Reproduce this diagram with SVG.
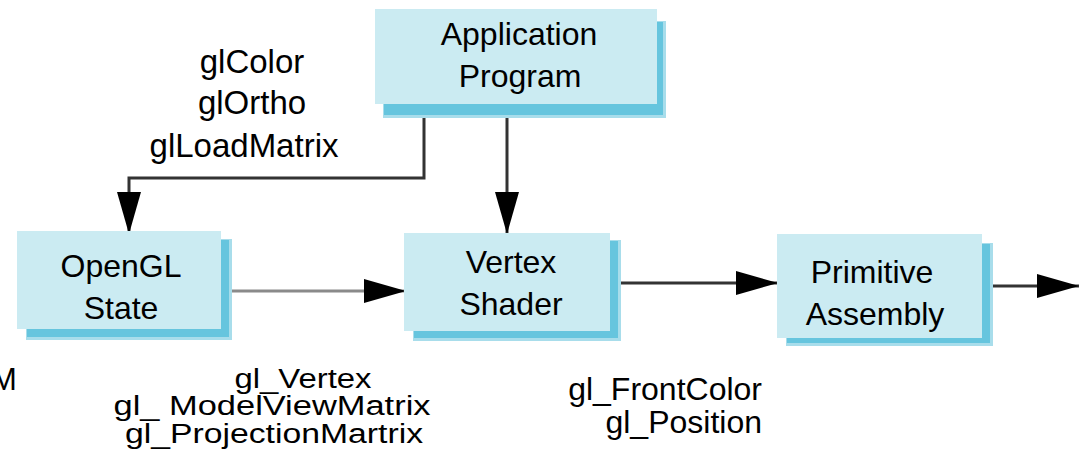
<svg xmlns="http://www.w3.org/2000/svg" width="1084" height="470" viewBox="0 0 1084 470">
<style>
.front{fill:#CBEBF2;}
.shadow{fill:#66C5DE;}
.edge{fill:#A8DDEB;}
text{font-family:"Liberation Sans",Arial,sans-serif;fill:#000;}
.box{font-size:32px;text-anchor:middle;}
.lbl{font-size:33px;text-anchor:middle;}
.blbl{font-size:27px;text-anchor:middle;}
.conn{fill:none;stroke:#333;stroke-width:3;}
.conn.gray{stroke:#8a8a8a;}
</style>
<defs>
<marker id="arr" markerUnits="userSpaceOnUse" markerWidth="42" markerHeight="24" viewBox="0 0 42 24" refX="42" refY="12" orient="auto">
<path d="M0,0 L42,12 L0,24 Z" fill="#000"/>
</marker>
</defs>
<rect width="1084" height="470" fill="#fff"/>
<g id="connectors">
<path class="conn" d="M424,117 V178 H129 V234" marker-end="url(#arr)"/>
<path class="conn" d="M507,117 V234" marker-end="url(#arr)"/>
<path class="conn gray" d="M225,291 H406" marker-end="url(#arr)"/>
<path class="conn" d="M610,283 H778" marker-end="url(#arr)"/>
<path class="conn" d="M982,286 H1079" marker-end="url(#arr)"/>
</g>
<g id="app">
<rect class="edge" x="383" y="21" width="283" height="97"/>
<rect class="shadow" x="384" y="22" width="279" height="93"/>
<rect class="front" x="375" y="9" width="282" height="95"/>
<text class="box" x="519" y="45">Application</text>
<text class="box" x="520" y="87">Program</text>
</g>
<g id="opengl">
<rect class="edge" x="26" y="239" width="206" height="101"/>
<rect class="shadow" x="27" y="240" width="202" height="97"/>
<rect class="front" x="17" y="231" width="204" height="98"/>
<text class="box" x="121" y="277">OpenGL</text>
<text class="box" x="121" y="319">State</text>
</g>
<g id="vertex">
<rect class="edge" x="413" y="240" width="208" height="101"/>
<rect class="shadow" x="414" y="241" width="204" height="97"/>
<rect class="front" x="404" y="233" width="206" height="98"/>
<text class="box" x="511" y="273">Vertex</text>
<text class="box" x="511" y="315">Shader</text>
</g>
<g id="primitive">
<rect class="edge" x="786" y="243" width="207" height="103"/>
<rect class="shadow" x="787" y="244" width="203" height="99"/>
<rect class="front" x="777" y="234" width="205" height="104"/>
<text class="box" x="872" y="283">Primitive</text>
<text class="box" x="875" y="325">Assembly</text>
</g>
<g id="labels">
<text class="lbl" x="252" y="73">glColor</text>
<text class="lbl" x="252" y="114">glOrtho</text>
<text class="lbl" x="244" y="157">glLoadMatrix</text>
<text class="blbl" x="303" y="388" textLength="137" lengthAdjust="spacingAndGlyphs">gl_Vertex</text>
<text class="blbl" x="272" y="415" textLength="317" lengthAdjust="spacingAndGlyphs">gl_ ModelViewMatrix</text>
<text class="blbl" x="274" y="443" textLength="298" lengthAdjust="spacingAndGlyphs">gl_ProjectionMartrix</text>
<text x="762" y="400" font-size="32" text-anchor="end">gl_FrontColor</text>
<text x="762" y="433" font-size="32" text-anchor="end">gl_Position</text>
<text x="-9" y="390" font-size="31">M</text>
</g>
</svg>
